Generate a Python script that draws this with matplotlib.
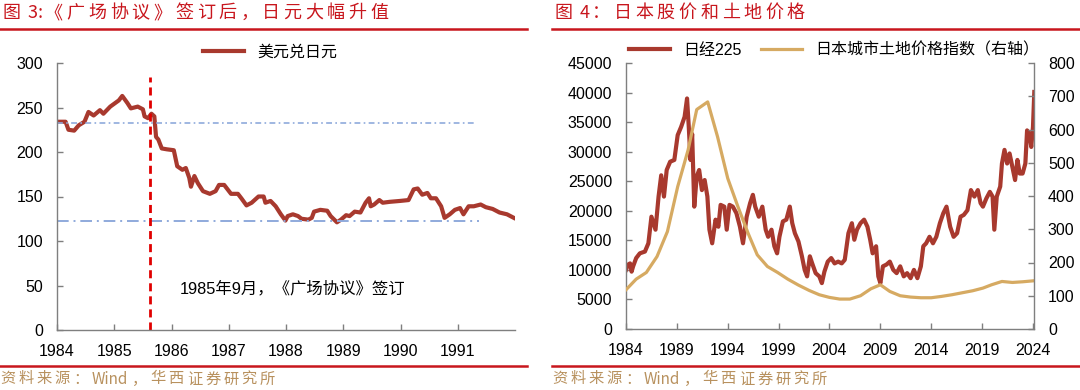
import matplotlib
matplotlib.use("Agg")
import matplotlib.pyplot as plt
from matplotlib.lines import Line2D

# ---------------- data: left chart (USD/JPY) ----------------
usdjpy_year = [1984.0, 1984.15, 1984.2, 1984.3, 1984.38, 1984.48, 1984.55, 1984.64, 1984.75, 1984.81,
               1984.93, 1985.08, 1985.14, 1985.23, 1985.29, 1985.41, 1985.5, 1985.53, 1985.59, 1985.65,
               1985.7, 1985.73, 1985.77, 1985.83, 1985.92, 1986.04, 1986.1, 1986.19, 1986.25, 1986.31,
               1986.34, 1986.4, 1986.46, 1986.55, 1986.67, 1986.77, 1986.83, 1986.92, 1986.98, 1987.04,
               1987.16, 1987.22, 1987.31, 1987.4, 1987.52, 1987.61, 1987.64, 1987.73, 1987.82, 1987.91,
               1987.99, 1988.03, 1988.12, 1988.21, 1988.27, 1988.39, 1988.45, 1988.49, 1988.6, 1988.72,
               1988.78, 1988.89, 1988.96, 1989.05, 1989.11, 1989.2, 1989.3, 1989.39, 1989.45, 1989.48,
               1989.54, 1989.63, 1989.69, 1989.81, 1989.99, 1990.14, 1990.23, 1990.3, 1990.38, 1990.47,
               1990.53, 1990.62, 1990.71, 1990.77, 1990.86, 1990.95, 1991.04, 1991.1, 1991.19, 1991.28,
               1991.4, 1991.49, 1991.61, 1991.73, 1991.86, 1991.98]
usdjpy_value = [234, 234, 225, 224, 230, 234, 245, 241, 247, 243,
                251, 258, 263, 255, 249, 251, 248, 240, 238, 243,
                240, 217, 214, 204, 203, 202, 184, 180, 182, 171,
                161, 173, 165, 156, 153, 156, 163, 163, 158, 153,
                153, 148, 140, 143, 150, 150, 143, 145, 139, 130,
                123, 128, 130, 128, 125, 124, 126, 133, 135, 134,
                128, 121, 124, 129, 128, 133, 132, 143, 148, 139,
                141, 146, 143, 144, 145, 146, 158, 159, 152, 154,
                148, 148, 139, 126, 130, 135, 137, 130, 139, 139,
                141, 138, 136, 132, 130, 126]
ref_high = 233
ref_low = 122.5
plaza_date = 1985.62
left_yticks = [0, 50, 100, 150, 200, 250, 300]
left_xticks = [1984, 1985, 1986, 1987, 1988, 1989, 1990, 1991]

# ---------------- data: right chart (Nikkei & land price) ----------------
nikkei_year = [1984.0, 1984.17, 1984.4, 1984.55, 1984.7, 1985.0, 1985.36, 1985.86, 1986.2, 1986.5,
               1986.9, 1987.2, 1987.46, 1987.73, 1988.0, 1988.34, 1988.75, 1989.08, 1989.42, 1989.76,
               1990.0, 1990.17, 1990.34, 1990.5, 1990.71, 1990.95, 1991.19, 1991.46, 1991.73, 1992.0,
               1992.2, 1992.47, 1992.8, 1993.08, 1993.3, 1993.66, 1993.9, 1994.17, 1994.5, 1994.85,
               1995.2, 1995.5, 1995.86, 1996.2, 1996.47, 1996.7, 1997.05, 1997.4, 1997.73, 1997.97,
               1998.3, 1998.58, 1998.85, 1999.08, 1999.42, 1999.76, 2000.1, 2000.34, 2000.6, 2000.95,
               2001.29, 2001.56, 2001.8, 2002.07, 2002.3, 2002.64, 2003.0, 2003.25, 2003.5, 2003.83,
               2004.17, 2004.5, 2004.85, 2005.2, 2005.5, 2005.86, 2006.2, 2006.44, 2006.7, 2007.05,
               2007.4, 2007.73, 2008.0, 2008.24, 2008.58, 2008.8, 2009.0, 2009.25, 2009.6, 2009.93,
               2010.27, 2010.6, 2010.95, 2011.3, 2011.63, 2011.97, 2012.3, 2012.64, 2012.98, 2013.22,
               2013.5, 2013.83, 2014.17, 2014.5, 2014.85, 2015.19, 2015.5, 2015.86, 2016.2, 2016.54,
               2016.88, 2017.2, 2017.56, 2017.9, 2018.24, 2018.58, 2018.85, 2019.08, 2019.42, 2019.76,
               2020.03, 2020.2, 2020.44, 2020.78, 2020.95, 2021.2, 2021.46, 2021.7, 2021.97, 2022.24,
               2022.47, 2022.7, 2022.98, 2023.25, 2023.42, 2023.66, 2023.83, 2024.0, 2024.13]
nikkei_value = [10000, 10860, 11100, 9700, 10600, 12000, 12800, 13100, 14500, 19000,
                16800, 22400, 26000, 22400, 26900, 28300, 28600, 32800, 34200, 35900,
                39000, 34200, 28600, 33000, 20700, 25800, 26900, 23500, 25200, 22400,
                16800, 14500, 18500, 17300, 21000, 20700, 16800, 21000, 20700, 19600,
                17300, 14500, 19000, 21300, 22700, 20700, 19000, 20700, 16800, 15600,
                16800, 14000, 12800, 15600, 18200, 18500, 20700, 17900, 16200, 14800,
                12300, 10000, 8900, 12300, 11100, 9450, 8900, 7760, 9700, 11400,
                12000, 11100, 11400, 11100, 11700, 16200, 17900, 15100, 16800, 17900,
                18500, 17300, 15100, 12800, 14000, 8900, 7760, 10600, 10900, 11400,
                10000, 9450, 10600, 8900, 9450, 8600, 10000, 8600, 10600, 14000,
                14500, 15600, 14500, 15600, 17900, 19600, 20700, 17300, 15600, 16200,
                19000, 19300, 20100, 23500, 22400, 23500, 21300, 20700, 22100, 23200,
                22400, 16800, 22400, 24100, 28000, 30300, 28000, 29700, 27450, 25200,
                28600, 26300, 26300, 28000, 33600, 33000, 30800, 34200, 40100]

land_year = [1984.0, 1985.0, 1986.0, 1987.05, 1988.07, 1989.08, 1990.1, 1990.95, 1992.03, 1993.0,
             1994.0, 1995.0, 1996.0, 1996.9, 1997.9, 1998.9, 1999.9, 2000.95, 2002.0, 2003.0,
             2004.0, 2005.0, 2006.0, 2007.05, 2008.07, 2009.0, 2009.93, 2010.95, 2011.97, 2012.98,
             2014.0, 2015.0, 2016.03, 2017.05, 2018.07, 2019.08, 2019.93, 2020.95, 2021.97, 2022.98,
             2024.07]
land_value = [118, 150, 170, 218, 293, 428, 538, 660, 683, 578,
              453, 368, 288, 223, 188, 170, 150, 132, 116, 103,
              95, 90, 90, 100, 121, 133, 113, 100, 96, 94,
              94, 98, 103, 109, 115, 123, 133, 143, 140, 142,
              145]
right_yticks_left = [0, 5000, 10000, 15000, 20000, 25000, 30000, 35000, 40000, 45000]
right_yticks_right = [0, 100, 200, 300, 400, 500, 600, 700, 800]
right_xticks = [1984, 1989, 1994, 1999, 2004, 2009, 2014, 2019, 2024]

# ---------------- style ----------------
RED_LINE = "#A8392E"
TAN = "#D6AA62"
BLUE = "#8FAADC"
DASH_RED = "#E00000"
TITLE_RED = "#C8161D"
SRC = "#B8915E"
SPINE = "#7F7F7F"
NUM_FONT = ["Liberation Sans", "Noto Sans CJK SC"]
CJK_FONT = ["Noto Sans CJK SC", "DejaVu Sans"]

plt.rcParams["font.family"] = NUM_FONT

fig = plt.figure(figsize=(10.8, 3.9), dpi=100)
W, H = 1080.0, 390.0


def fx(px):
    return px / W


def fy(py):
    return 1 - py / H


renderer = fig.canvas.get_renderer()


def tracked_text(x_px, y_px, s, size, color, family, advance_px, ascii_gap=0.0):
    """Wide (CJK) chars get a fixed advance; ASCII runs are drawn as one piece."""
    # split into runs
    runs = []
    for ch in s:
        wide = ord(ch) > 0x2000
        if runs and not wide and not runs[-1][1]:
            runs[-1][0] += ch
        else:
            runs.append([ch, wide])
    x = x_px
    for txt, wide in runs:
        if wide:
            fig.text(fx(x), fy(y_px), txt, color=color, fontsize=size, family=family,
                     ha="left", va="center")
            x += advance_px
        else:
            t = fig.text(fx(x), fy(y_px), txt, color=color, fontsize=size, family=family,
                         ha="left", va="center")
            x += t.get_window_extent(renderer).width + ascii_gap


def style_axis(ax, spines=("left", "bottom")):
    for s in ["left", "right", "top", "bottom"]:
        if s in spines:
            ax.spines[s].set_color(SPINE)
            ax.spines[s].set_linewidth(1.0)
        else:
            ax.spines[s].set_visible(False)
    ax.tick_params(direction="in", length=4, width=1, color=SPINE,
                   labelsize=11.5, labelcolor="#000000", pad=10)


# ---------------- left chart ----------------
ax1 = fig.add_axes([fx(57), fy(330), fx(515 - 57), (330 - 63) / H])
ax1.plot(usdjpy_year, usdjpy_value, color=RED_LINE, lw=3, label="美元兑日元",
         solid_joinstyle="round")
ax1.plot([1984, 1991.3], [ref_high, ref_high], color=BLUE, lw=1.2, ls=(0, (3.5, 2, 1, 2)))
ax1.plot([1984, 1991.37], [ref_low, ref_low], color=BLUE, lw=1.4, ls=(0, (6, 2.5, 1, 2.5)))
ax1.plot([plaza_date, plaza_date], [0, 284], color=DASH_RED, lw=2, ls=(0, (2.9, 1.8)))
ax1.text(1986.15, 46, "1985年9月，《广场协议》签订", fontsize=11.8, ha="left", va="center",
         family=NUM_FONT)
ax1.set_xlim(1984, 1992)
ax1.set_ylim(0, 300)
ax1.set_xticks(left_xticks)
ax1.set_xticklabels([str(v) for v in left_xticks])
ax1.set_yticks(left_yticks)
style_axis(ax1)
ax1.legend(loc="center", bbox_to_anchor=(fx(270), fy(52)), bbox_transform=fig.transFigure,
           frameon=False, handlelength=2.6, prop={"family": CJK_FONT, "size": 11.5})

# ---------------- right chart ----------------
ax2 = fig.add_axes([fx(626), fy(329), fx(1034 - 626), (329 - 63) / H])
ax3 = ax2.twinx()
l1, = ax2.plot(nikkei_year, nikkei_value, color=RED_LINE, lw=3, label="日经225",
               solid_joinstyle="round")
l2, = ax3.plot(land_year, land_value, color=TAN, lw=2.3, label="日本城市土地价格指数（右轴）")
ax2.set_xlim(1984, 2024.1)
ax2.set_ylim(0, 45000)
ax3.set_ylim(0, 800)
ax2.set_xticks(right_xticks)
ax2.set_xticklabels([str(v) for v in right_xticks])
ax2.set_yticks(right_yticks_left)
ax3.set_yticks(right_yticks_right)
style_axis(ax2, spines=("left", "bottom"))
style_axis(ax3, spines=("right",))
ax2.legend(handles=[l1, l2], loc="center", bbox_to_anchor=(fx(834), fy(50)),
           bbox_transform=fig.transFigure, frameon=False, ncol=2, handlelength=2.6,
           columnspacing=1.2, prop={"family": NUM_FONT, "size": 11.5})

# ---------------- titles, separators, sources ----------------
tracked_text(2, 13, "图 3:《广场协议》签订后，日元大幅升值", 13, TITLE_RED, CJK_FONT, 21.7, 2)
tracked_text(554, 13, "图 4：日本股价和土地价格", 13, TITLE_RED, CJK_FONT, 21.7, 2)
for x0, x1 in [(0, 527), (552, 1080)]:
    fig.add_artist(Line2D([fx(x0), fx(x1)], [fy(28.5), fy(28.5)], color=TITLE_RED, lw=1.8))
    fig.add_artist(Line2D([fx(x0), fx(x1)], [fy(366), fy(366)], color=TITLE_RED, lw=1.8))
tracked_text(0, 379, "资料来源：Wind，华西证券研究所", 11, SRC, CJK_FONT, 18.3, 4)
tracked_text(552, 379, "资料来源：Wind，华西证券研究所", 11, SRC, CJK_FONT, 18.3, 4)

fig.savefig("out.png", dpi=100)
